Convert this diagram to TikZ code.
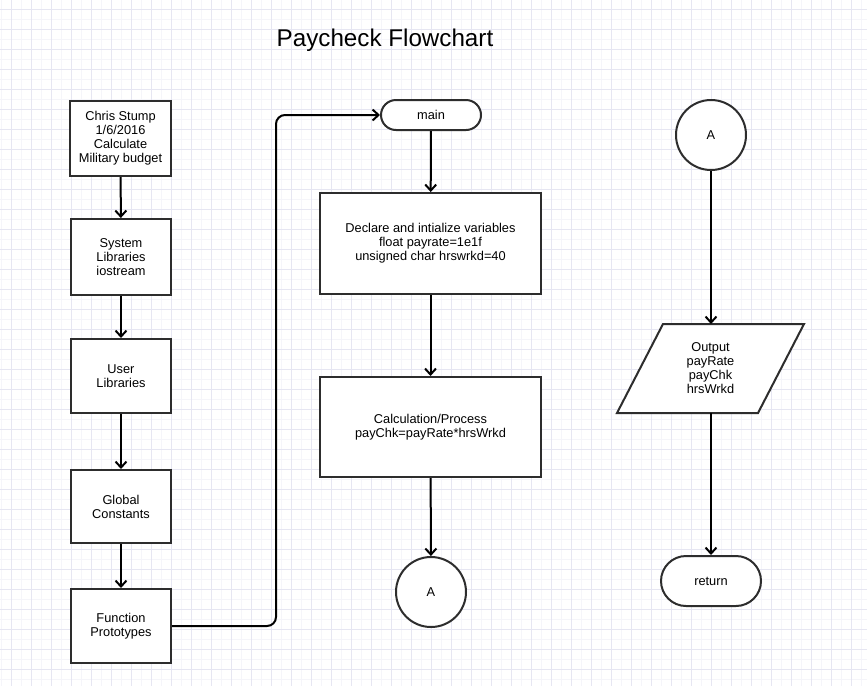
\documentclass[tikz,border=0pt]{standalone}
\usepackage{fontspec}
\setmainfont{Liberation Sans}
\usetikzlibrary{arrows.meta,shapes.geometric}
\definecolor{gridc}{RGB}{230,230,242}
\definecolor{gridf}{RGB}{245,245,250}
\definecolor{edge}{RGB}{45,45,45}
\begin{document}
\begin{tikzpicture}[x=1pt,y=-1pt,
  txt/.style={font=\fontsize{12.8}{14}\selectfont,align=center,text=black},
  stepbox/.style={txt,draw=edge,line width=2pt,fill=white,rectangle,inner sep=0pt},
  term/.style={stepbox,rounded corners=#1},
  conn/.style={txt,draw=edge,line width=2pt,fill=white,circle,minimum size=70pt,inner sep=0pt},
  arr/.style={line width=2pt,-{Straight Barb[length=6pt,width=11pt,line width=2pt]}}]
\useasboundingbox (0,0) rectangle (867,686);
\fill[white] (0,0) rectangle (867,686);
% faint grid
\foreach \x in {1,21,...,861} \draw[gridf,line width=0.8pt] (\x,0) -- (\x,686);
\foreach \y in {-1,19,...,681} \draw[gridf,line width=0.8pt] (0,\y) -- (867,\y);
\foreach \x in {11,31,...,851} \draw[gridc,line width=1pt] (\x,0) -- (\x,686);
\foreach \y in {9,29,...,669} \draw[gridc,line width=1pt] (0,\y) -- (867,\y);

\node[font=\fontsize{24.2}{28}\selectfont] (title) at (385,40) {Paycheck Flowchart};

\node[stepbox,minimum width=101pt,minimum height=75pt] (b1) at (120.5,138.5) {Chris Stump\\1/6/2016\\Calculate\\Military budget};
\node[stepbox,minimum width=100pt,minimum height=76pt] (b2) at (121,257) {System\\Libraries\\iostream};
\node[stepbox,minimum width=100pt,minimum height=74pt] (b3) at (121,376) {User\\Libraries};
\node[stepbox,minimum width=100pt,minimum height=73pt] (b4) at (121,506.5) {Global\\Constants};
\node[stepbox,minimum width=100pt,minimum height=74pt] (b5) at (121,626) {Function\\Prototypes};

\node[term=15pt,minimum width=100pt,minimum height=30pt] (main) at (431,115) {main};
\node[stepbox,minimum width=221pt,minimum height=101pt] (d1) at (430.5,243.5) {Declare and intialize variables\\float payrate=1e1f\\unsigned char hrswrkd=40};
\node[stepbox,minimum width=221pt,minimum height=100pt] (d2) at (430.5,427) {Calculation/Process\\payChk=payRate*hrsWrkd};
\node[conn] (A1) at (431,592) {A};

\node[conn] (A2) at (711,135) {A};
\draw[edge,line width=2pt,fill=white] (663,324) -- (804,324) -- (758,413) -- (617,413) -- cycle;
\node[txt,minimum width=141pt,minimum height=89pt,inner sep=0pt] (out) at (710.5,368.5) {Output\\payRate\\payChk\\hrsWrkd};
\coordinate (outT) at (711,324);
\coordinate (outB) at (711,413);
\node[term=25pt,minimum width=100pt,minimum height=50pt] (ret) at (711,581) {return};

\draw[arr] (b1) -- (b2);
\draw[arr] (b2) -- (b3);
\draw[arr] (b3) -- (b4);
\draw[arr] (b4) -- (b5);
\coordinate (bend) at (276,370);
\draw[arr,rounded corners=9pt] (b5.east) -| (bend) |- (main.west);
\draw[arr] (main) -- (d1);
\draw[arr] (d1) -- (d2);
\draw[arr] (d2) -- (A1);
\draw[arr] (A2) -- (outT);
\draw[arr] (outB) -- (ret);
\end{tikzpicture}
\end{document}
